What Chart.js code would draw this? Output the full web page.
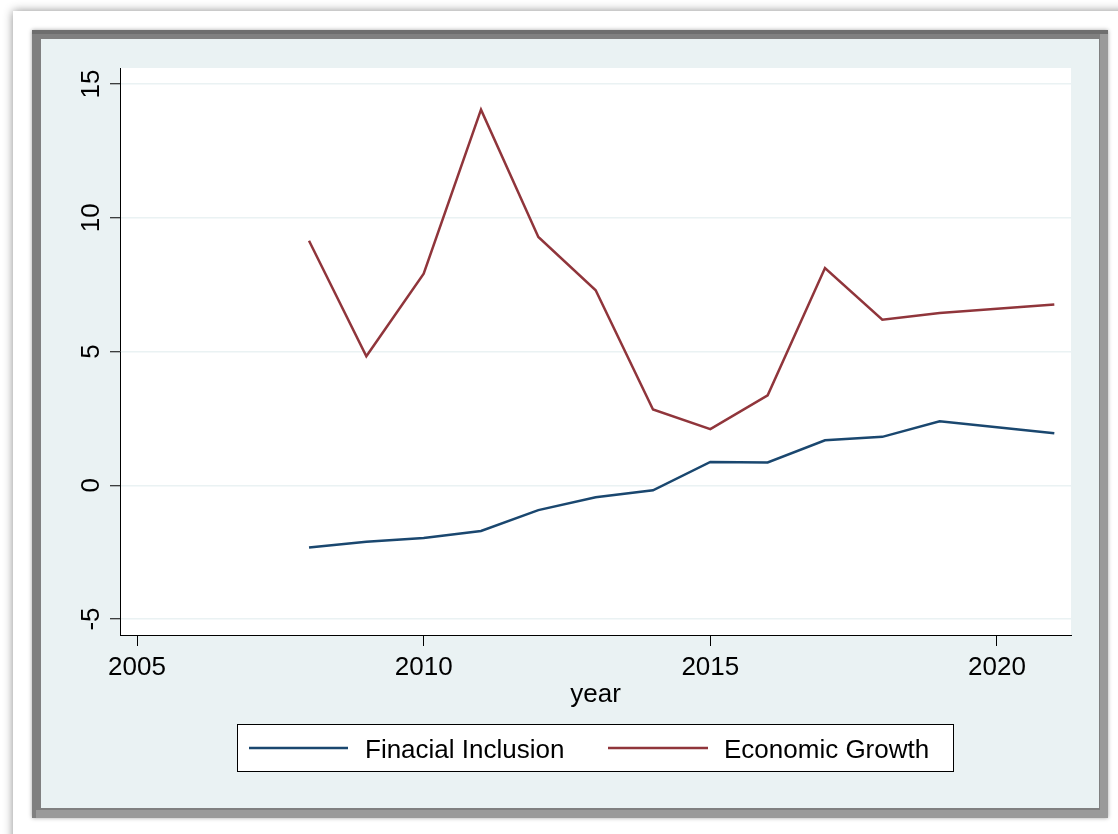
<!DOCTYPE html>
<html>
<head>
<meta charset="utf-8">
<title>Financial inclusion and economic growth</title>
<script src="https://cdn.jsdelivr.net/npm/chart.js@4.4.1/dist/chart.umd.min.js"></script>
<style>
  html, body { margin: 0; padding: 0; background: #fff; }
  #wrap { width: 1118px; height: 834px; }
</style>
</head>
<body>
<div id="wrap"><canvas id="growthChart" width="1118" height="834"></canvas></div>
<script>
// series by year
const years = [2008, 2009, 2010, 2011, 2012, 2013, 2014, 2015, 2016, 2017, 2018, 2019, 2020, 2021];
const finInclusion = [-2.33, -2.11, -1.97, -1.71, -0.93, -0.45, -0.19, 0.87, 0.85, 1.68, 1.81, 2.39, 2.17, 1.94];
const econGrowth = [9.14, 4.82, 7.91, 14.04, 9.28, 7.29, 2.83, 2.10, 3.36, 8.12, 6.19, 6.44, 6.60, 6.76];
const seriesNames = ['Finacial Inclusion', 'Economic Growth'];
const xTicks = [2005, 2010, 2015, 2020];
const yTicks = [-5, 0, 5, 10, 15];

const FONT = "'Liberation Sans', Arial, sans-serif";
const PANEL = '#eaf2f3';

// frame, shaded panel and white plot region
const backdrop = {
    id: 'backdrop',
    beforeDraw(chart) {
        const ctx = chart.ctx;
        const a = chart.chartArea;
        ctx.save();
        ctx.fillStyle = '#fff';
        ctx.fillRect(0, 0, chart.width, chart.height);

        // outer sheet with a soft edge on top and left
        ctx.shadowColor = 'rgba(0,0,0,0.45)';
        ctx.shadowBlur = 9;
        ctx.fillRect(13, 11, chart.width, chart.height);

        // dark frame around the graph
        ctx.shadowColor = 'rgba(0,0,0,0.35)';
        ctx.shadowBlur = 4;
        ctx.fillStyle = '#808080';
        ctx.fillRect(32, 30, 1076, 788);
        ctx.shadowColor = 'transparent';
        ctx.fillStyle = '#6e6e6e';
        ctx.fillRect(32, 30, 1076, 4);
        ctx.fillStyle = '#9a9a9a';
        ctx.fillRect(1100, 34, 8, 784);
        ctx.fillRect(36, 810, 1072, 8);

        ctx.fillStyle = PANEL;
        ctx.fillRect(41, 39, 1058, 769);

        ctx.fillStyle = '#fff';
        ctx.fillRect(a.left, a.top, a.right - a.left, a.bottom - a.top);
        ctx.restore();
    }
};

// rotated y labels and the boxed legend
const extras = {
    id: 'extras',
    afterDraw(chart) {
        const ctx = chart.ctx;
        const yScale = chart.scales.y;
        ctx.save();
        ctx.fillStyle = '#000';
        ctx.font = '26px ' + FONT;
        ctx.textAlign = 'center';
        ctx.textBaseline = 'alphabetic';
        yTicks.forEach(v => {
            const py = yScale.getPixelForValue(v);
            ctx.save();
            ctx.translate(99, py);
            ctx.rotate(-Math.PI / 2);
            ctx.fillText(String(v), 0, 0);
            ctx.restore();
        });

        // legend
        ctx.fillStyle = '#fff';
        ctx.fillRect(237, 724, 716, 48);
        ctx.strokeStyle = '#000';
        ctx.lineWidth = 1;
        ctx.strokeRect(237.5, 724.5, 716, 47);

        const keys = [{ x0: 249, x1: 348, tx: 365 }, { x0: 608, x1: 708, tx: 724 }];
        chart.data.datasets.forEach((ds, i) => {
            const k = keys[i];
            ctx.strokeStyle = ds.borderColor;
            ctx.lineWidth = 2.5;
            ctx.beginPath();
            ctx.moveTo(k.x0, 748);
            ctx.lineTo(k.x1, 748);
            ctx.stroke();
            ctx.fillStyle = '#000';
            ctx.textAlign = 'left';
            ctx.fillText(ds.label, k.tx, 758);
        });
        ctx.restore();
    }
};

const toPoints = vals => years.map((yr, i) => ({ x: yr, y: vals[i] }));

new Chart(document.getElementById('growthChart').getContext('2d'), {
    type: 'line',
    data: {
        datasets: [
            {
                label: seriesNames[0],
                data: toPoints(finInclusion),
                borderColor: '#1a476f',
                borderWidth: 2.5,
                pointRadius: 0,
                tension: 0,
                fill: false
            },
            {
                label: seriesNames[1],
                data: toPoints(econGrowth),
                borderColor: '#90353b',
                borderWidth: 2.5,
                pointRadius: 0,
                tension: 0,
                fill: false
            }
        ]
    },
    options: {
        responsive: false,
        animation: false,
        devicePixelRatio: 1,
        layout: { padding: { left: 41, right: 47, top: 68, bottom: 119 } },
        plugins: {
            legend: { display: false },
            tooltip: { enabled: false }
        },
        scales: {
            x: {
                type: 'linear',
                min: 2004.703,
                max: 2021.291,
                afterBuildTicks: s => { s.ticks = xTicks.map(v => ({ value: v })); },
                afterFit: s => { s.height = 80; },
                grid: {
                    drawOnChartArea: false,
                    drawTicks: true,
                    tickLength: 11,
                    tickColor: '#000',
                    tickWidth: 1
                },
                border: { display: true, color: '#000', width: 1 },
                ticks: {
                    color: '#000',
                    font: { family: FONT, size: 26 },
                    padding: 6,
                    maxRotation: 0,
                    autoSkip: false,
                    callback: v => String(v)
                },
                title: {
                    display: true,
                    text: 'year',
                    color: '#000',
                    font: { family: FONT, size: 26 },
                    padding: { top: 0, bottom: 5 }
                }
            },
            y: {
                type: 'linear',
                min: -5.598,
                max: 15.598,
                afterBuildTicks: s => { s.ticks = yTicks.map(v => ({ value: v })); },
                afterFit: s => { s.width = 79; },
                grid: {
                    color: PANEL,
                    lineWidth: 1.5,
                    drawTicks: true,
                    tickLength: 10,
                    tickColor: '#000',
                    tickWidth: 1
                },
                border: { display: true, color: '#000', width: 1 },
                ticks: { display: false }
            }
        }
    },
    plugins: [backdrop, extras]
});
</script>
</body>
</html>
